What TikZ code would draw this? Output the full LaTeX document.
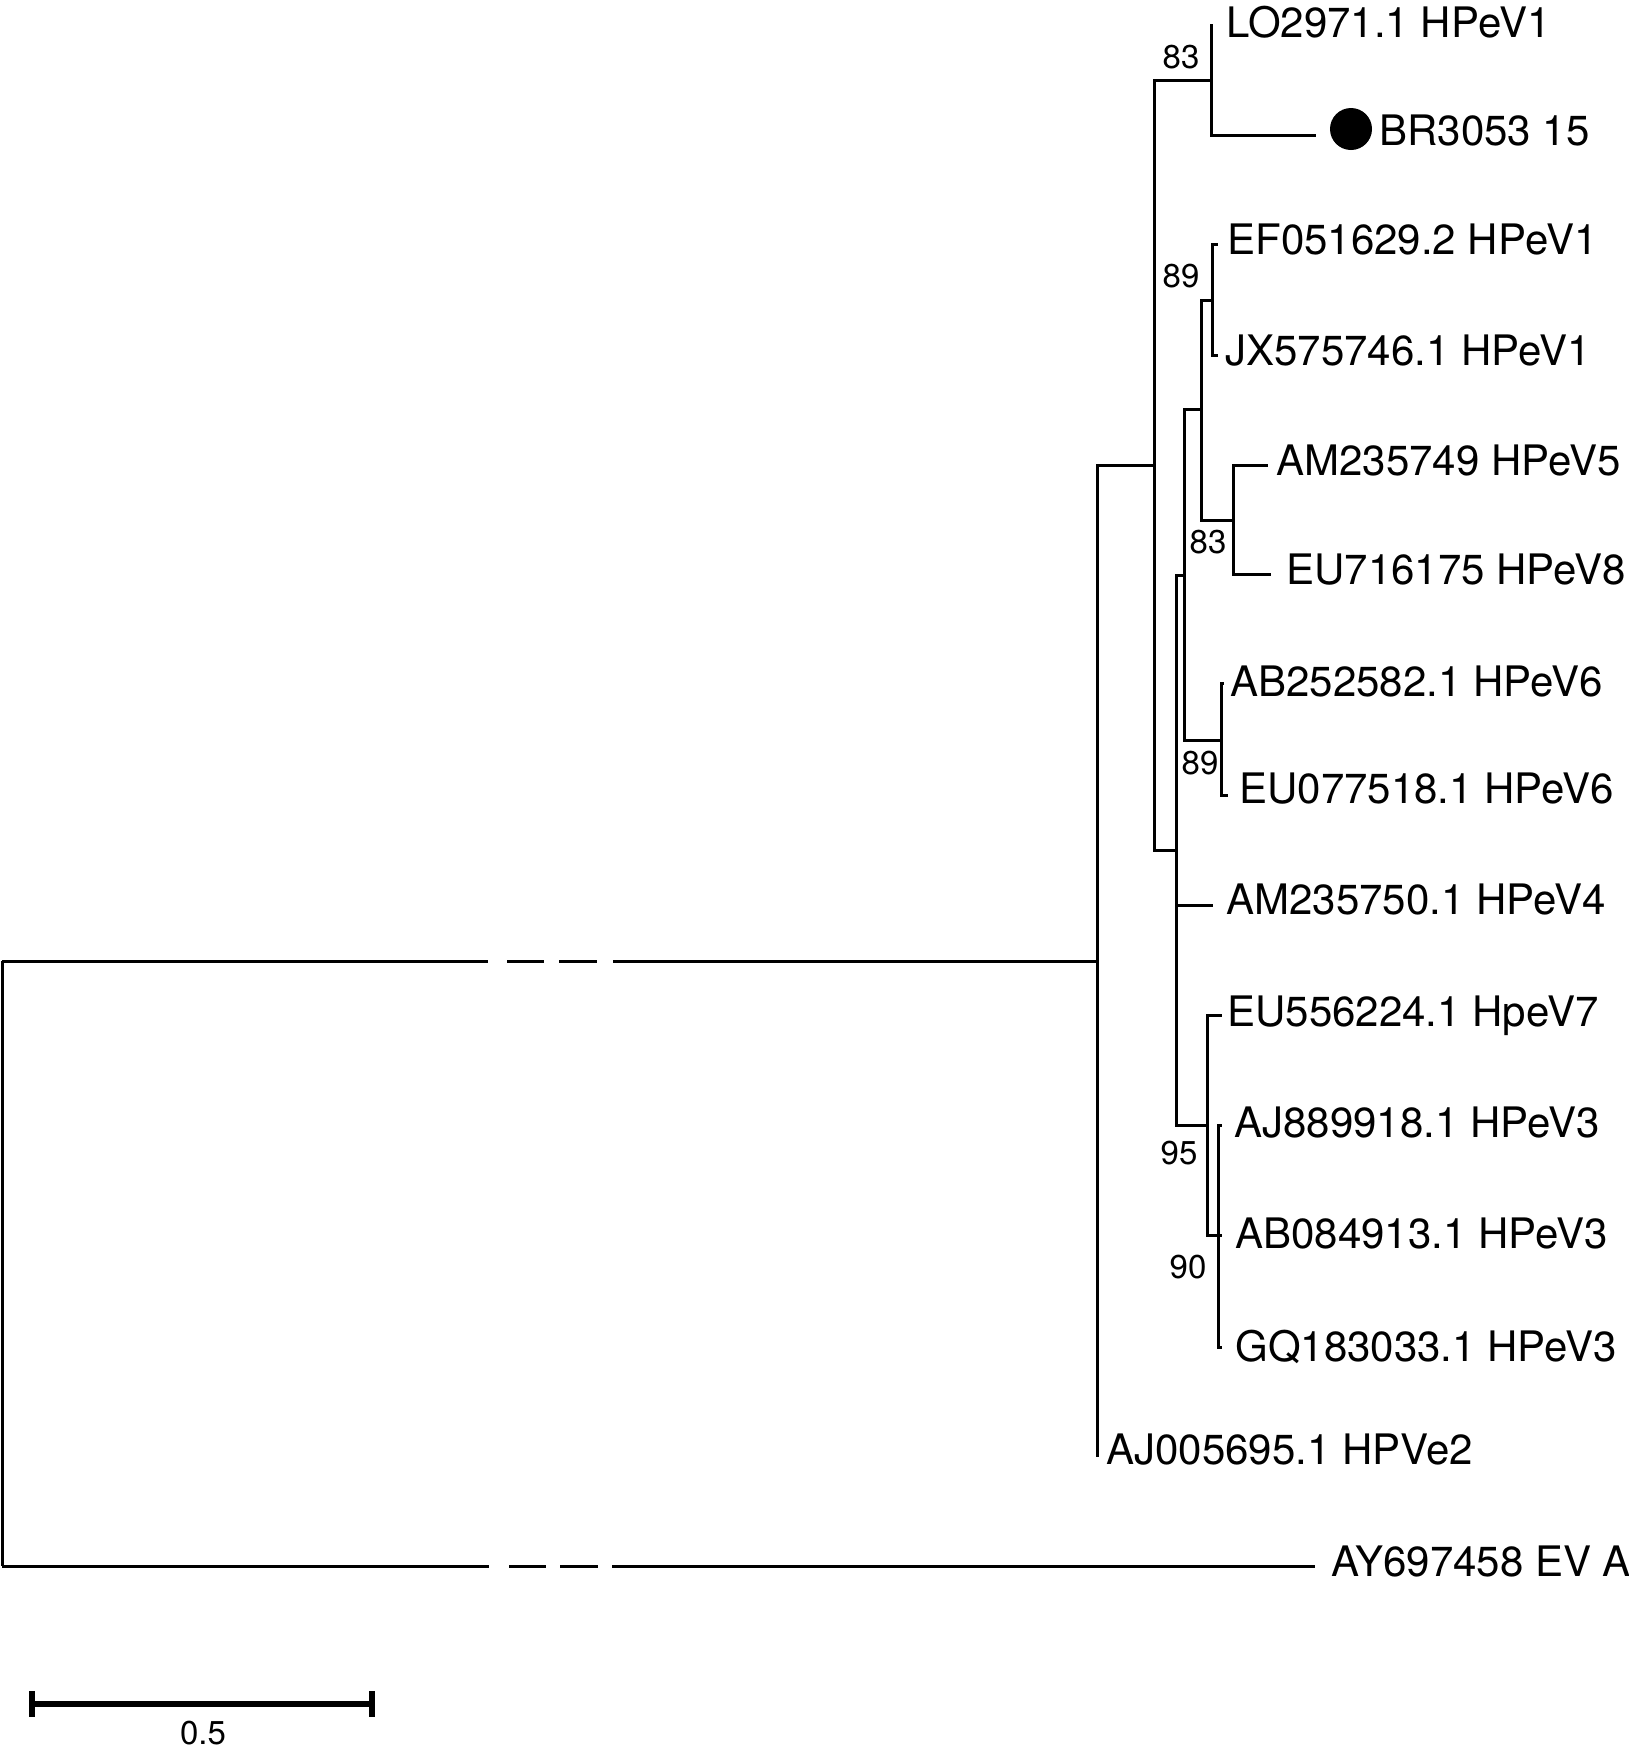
\documentclass[tikz,border=0pt]{standalone}
\usepackage{fontspec}
\setmainfont{TeX Gyre Heros}
\begin{document}
\begin{tikzpicture}[x=0.5pt,y=-0.5pt,line width=1.5pt,
  lab/.style={anchor=base west, inner sep=0pt, font=\fontsize{21}{25}\selectfont},
  boot/.style={anchor=base, inner sep=0pt, font=\fontsize{16.5}{19}\selectfont},
  bar/.style={line width=3pt}]
\useasboundingbox (0,0) rectangle (1629,1753);
% internal nodes
\coordinate (root) at (2,1263);
\coordinate (nA) at (1097,961);
\coordinate (nB) at (1154,465);
\coordinate (nC) at (1211,80);
\coordinate (nD) at (1176,850);
\coordinate (nE) at (1184,575);
\coordinate (nF) at (1201,409);
\coordinate (nG) at (1212,300);
\coordinate (nH) at (1233,520);
\coordinate (nI) at (1221,740);
\coordinate (nJ) at (1207,1125);
\coordinate (nK) at (1218,1235);
% tips
\coordinate (tLO) at (1211,24);
\coordinate (tBR) at (1316,135);
\coordinate (tEF) at (1218,244);
\coordinate (tJX) at (1218,355);
\coordinate (tAM5) at (1268,465);
\coordinate (tEU8) at (1271,574);
\coordinate (tAB6) at (1224,683);
\coordinate (tEU6) at (1228,795);
\coordinate (tAM4) at (1213,905);
\coordinate (tEU7) at (1222,1015);
\coordinate (tAJ3) at (1222,1125);
\coordinate (tAB3) at (1222,1235);
\coordinate (tGQ3) at (1222,1347);
\coordinate (tAJ2) at (1097,1457);
\coordinate (tAY) at (1315,1566);
% root
\draw (root |- nA) -- (root |- tAY);
\draw[dash pattern=on 243pt off 9.5pt on 18.5pt off 7.5pt on 19pt off 8pt on 600pt] (root |- nA) -- (nA);
\draw[dash pattern=on 243.5pt off 10pt on 18.5pt off 7pt on 19pt off 7pt on 600pt] (root |- tAY) -- (tAY);
% tree
\draw (nA) |- (nB);
\draw (nA) |- (tAJ2);
\draw (nB) |- (nC);
\draw (nB) |- (nD);
\draw (nC) |- (tLO);
\draw (nC) |- (tBR);
\draw (nD) |- (nE);
\draw (nD) |- (tAM4);
\draw (nD) |- (nJ);
\draw (nE) |- (nF);
\draw (nE) |- (nI);
\draw (nF) |- (nG);
\draw (nF) |- (nH);
\draw (nG) |- (tEF);
\draw (nG) |- (tJX);
\draw (nH) |- (tAM5);
\draw (nH) |- (tEU8);
\draw (nI) |- (tAB6);
\draw (nI) |- (tEU6);
\draw (nJ) |- (tEU7);
\draw (nJ) |- (nK);
\draw (nK) |- (tAJ3);
\draw (nK) |- (tAB3);
\draw (nK) |- (tGQ3);
% marker
\node[circle, fill=black, inner sep=0pt, minimum size=21pt] (dot) at (1351,129) {};
% labels
\node[lab] (lLO) at (1225,37) {LO2971.1 HPeV1};
\node[lab] (lBR) at (1378,145) {BR3053 15};
\node[lab] (lEF) at (1226,254) {EF051629.2 HPeV1};
\node[lab] (lJX) at (1224,365) {JX575746.1 HPeV1};
\node[lab] (lAM5) at (1275,475) {AM235749 HPeV5};
\node[lab] (lEU8) at (1285,584) {EU716175 HPeV8};
\node[lab] (lAB6) at (1229,696) {AB252582.1 HPeV6};
\node[lab] (lEU6) at (1238,803) {EU077518.1 HPeV6};
\node[lab] (lAM4) at (1225,914) {AM235750.1 HPeV4};
\node[lab] (lEU7) at (1226,1026) {EU556224.1 HpeV7};
\node[lab] (lAJ3) at (1233,1137) {AJ889918.1 HPeV3};
\node[lab] (lAB3) at (1234,1248) {AB084913.1 HPeV3};
\node[lab] (lGQ3) at (1234,1361) {GQ183033.1 HPeV3};
\node[lab] (lAJ2) at (1105,1464) {AJ005695.1 HPVe2};
\node[lab] (lAY) at (1330,1576) {AY697458 EV A};
% bootstrap
\node[boot] (b1) at (1181,68) {83};
\node[boot] (b2) at (1181,287) {89};
\node[boot] (b3) at (1208,553) {83};
\node[boot] (b4) at (1200,774) {89};
\node[boot] (b5) at (1179,1164) {95};
\node[boot] (b6) at (1188,1278) {90};
% scale bar
\coordinate (sbL) at (32,1704);
\coordinate (sbR) at (372,1704);
\draw[bar] (sbL) -- (sbR);
\draw[bar] (sbL) ++(0,-13) -- ++(0,26);
\draw[bar] (sbR) ++(0,-13) -- ++(0,26);
\node[boot] (sbt) at (203,1744) {0.5};
\end{tikzpicture}
\end{document}
